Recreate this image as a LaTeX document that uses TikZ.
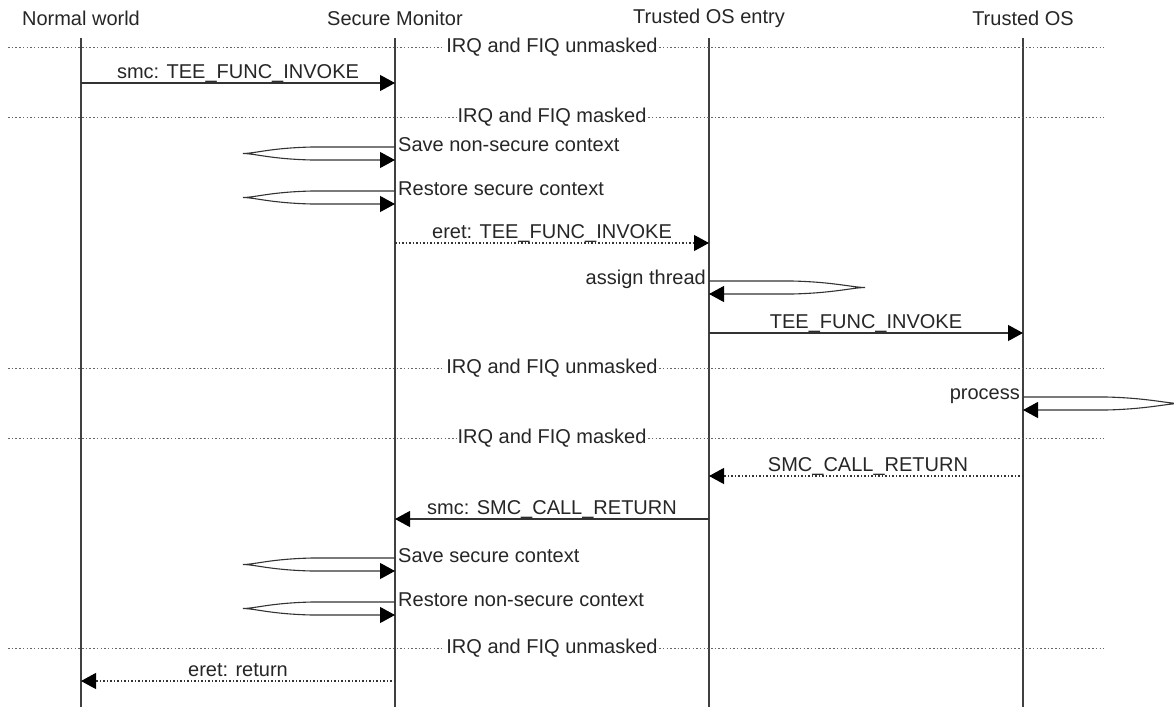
\documentclass[tikz,border=0pt]{standalone}
\usepackage{fontspec}
\setmainfont{Liberation Sans}
\usetikzlibrary{arrows.meta,calc}
\begin{document}
\begin{tikzpicture}[x=1pt,y=-1pt,
  every node/.style={font=\fontsize{20}{23}\selectfont, text=black!85, inner sep=0pt},
  life/.style={draw=black!75, line width=1.1pt},
  msg/.style={draw=black!80, line width=1.1pt, -{Triangle[length=15pt,width=16pt,color=black]}},
  dmsg/.style={msg, dash pattern=on 1.5pt off 2pt},
  sep/.style={draw=black!60, line width=1pt, dash pattern=on 1.5pt off 2.2pt},
  seplabel/.style={fill=white, inner xsep=1pt, inner ysep=1pt},
  lbl/.style={anchor=base},
]
\useasboundingbox (0,0) rectangle (1174,707);
\clip (0,0) rectangle (1174,707);
% headers
\node (hnw) at (81,18) {Normal world};
\node (hsm) at (395,18) {Secure Monitor};
\node (htoe) at (709,18) {Trusted OS entry};
\node (htos) at (1023,18) {Trusted OS};
% lifelines
\coordinate (nw) at (81,38);   \coordinate (nwb) at (81,707);
\coordinate (sm) at (395,38);  \coordinate (smb) at (395,707);
\coordinate (toe) at (709,38); \coordinate (toeb) at (709,707);
\coordinate (tos) at (1023,38);\coordinate (tosb) at (1023,707);
\draw[life] (nw) -- (nwb);
\draw[life] (sm) -- (smb);
\draw[life] (toe) -- (toeb);
\draw[life] (tos) -- (tosb);
% separators
\foreach \y/\t/\n in {47/IRQ and FIQ unmasked/s1, 117/IRQ and FIQ masked/s2, 368/IRQ and FIQ unmasked/s3, 438/IRQ and FIQ masked/s4, 648/IRQ and FIQ unmasked/s5}{
  \coordinate (\n L) at (8,\y);
  \coordinate (\n R) at (1104,\y);
  \draw[sep] (\n L) -- (\n R);
  \node[seplabel] (\n) at (552,\y) {\t};
}
% smc: TEE_FUNC_INVOKE
\draw[msg] (nw |- 0,83) -- (sm |- 0,83);
\node[lbl] (l1) at (238,78) {smc: TEE\_FUNC\_INVOKE};
% Save non-secure context
\draw[msg] (sm |- 0,147) -- (312,147) .. controls (270,148) and (255,153.5) .. (243,153.5) .. controls (255,153.5) and (270,159) .. (312,160) -- (sm |- 0,160);
\node[anchor=base west] (l2) at (398,151) {Save non-secure context};
% Restore secure context
\draw[msg] (sm |- 0,191) -- (312,191) .. controls (270,192) and (255,197.5) .. (243,197.5) .. controls (255,197.5) and (270,203) .. (312,204) -- (sm |- 0,204);
\node[anchor=base west] (l3) at (398,195) {Restore secure context};
% eret: TEE_FUNC_INVOKE
\draw[dmsg] (sm |- 0,243) -- (toe |- 0,243);
\node[lbl] (l4) at (552,238) {eret: TEE\_FUNC\_INVOKE};
% assign thread
\draw[msg] (toe |- 0,281) -- (792,281) .. controls (834,282) and (853,287.5) .. (865,287.5) .. controls (853,287.5) and (834,293) .. (792,294) -- (toe |- 0,294);
\node[anchor=base east] (l5) at (706,284) {assign thread};
% TEE_FUNC_INVOKE
\draw[msg] (toe |- 0,333) -- (tos |- 0,333);
\node[lbl] (l6) at (866,328) {TEE\_FUNC\_INVOKE};
% process
\draw[msg] (tos |- 0,397) -- (1106,397) .. controls (1148,398) and (1167,403.5) .. (1180,403.5) .. controls (1167,403.5) and (1148,409) .. (1106,410) -- (tos |- 0,410);
\node[anchor=base east] (l7) at (1020,399) {process};
% SMC_CALL_RETURN
\draw[dmsg] (tos |- 0,476) -- (toe |- 0,476);
\node[lbl] (l8) at (868,471) {SMC\_CALL\_RETURN};
% smc: SMC_CALL_RETURN
\draw[msg] (toe |- 0,519) -- (sm |- 0,519);
\node[lbl] (l9) at (552,514) {smc: SMC\_CALL\_RETURN};
% Save secure context
\draw[msg] (sm |- 0,558) -- (312,558) .. controls (270,559) and (255,564.5) .. (243,564.5) .. controls (255,564.5) and (270,570) .. (312,571) -- (sm |- 0,571);
\node[anchor=base west] (l10) at (398,562) {Save secure context};
% Restore non-secure context
\draw[msg] (sm |- 0,602) -- (312,602) .. controls (270,603) and (255,608.5) .. (243,608.5) .. controls (255,608.5) and (270,614) .. (312,615) -- (sm |- 0,615);
\node[anchor=base west] (l11) at (398,606) {Restore non-secure context};
% eret: return
\draw[dmsg] (sm |- 0,681) -- (nw |- 0,681);
\node[lbl] (l12) at (238,676) {eret: return};
\end{tikzpicture}
\end{document}
